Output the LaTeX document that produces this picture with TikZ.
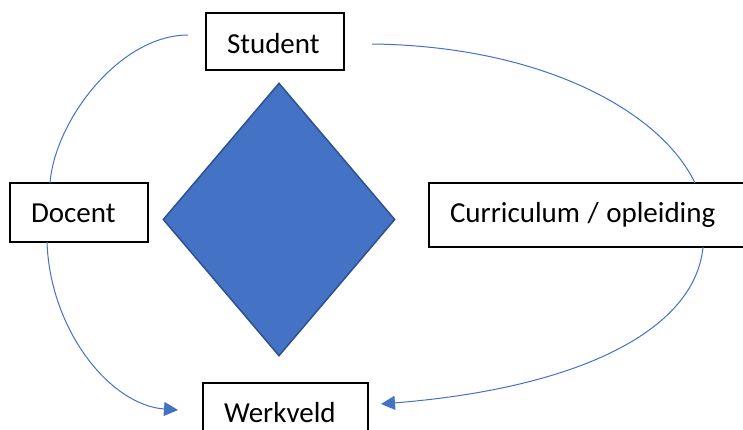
\documentclass[tikz,border=0pt]{standalone}
\usepackage{fontspec}
\setmainfont{Carlito}
\usetikzlibrary{arrows.meta,calc,shapes.geometric}
\definecolor{lineblue}{HTML}{4472C4}
\definecolor{fillblue}{HTML}{4472C4}
\definecolor{edgeblue}{HTML}{2F528F}
\begin{document}
\begin{tikzpicture}[x=1pt,y=-1pt,
  box/.style={draw=black, line width=1.5pt, fill=white, anchor=north west,
    inner xsep=21pt, inner ysep=0pt, outer sep=0pt, align=left,
    font=\fontsize{29}{34}\selectfont},
  link/.style={draw=lineblue, line width=1pt},
  arr/.style={link, -{Triangle[length=14pt,width=14pt]}}]
\clip (0,0) rectangle (743,429);
\fill[white] (0,0) rectangle (743,429);
% nodes
\node[box, text width=96pt, text height=40pt, text depth=17pt] (student) at (206,13) {Student};
\node[box, text width=96pt, text height=39pt, text depth=20pt] (docent) at (10,183) {Docent};
\node[box, text width=300pt, text height=39pt, text depth=25pt] (curric) at (429,183) {\spaceskip=7.5pt Curriculum / opleiding};
\node[box, text width=123pt, text height=39pt, text depth=30pt] (werkveld) at (203,383) {Werkveld};
\node[diamond, draw=edgeblue, fill=fillblue, line width=1.5pt, inner sep=0pt,
  minimum width=232pt, minimum height=273pt] (core) at (279,219.5) {};
% free ends of the connectors
\coordinate (sl) at (188,35);
\coordinate (sr) at (372,44);
\coordinate (wl) at (178,410);
\coordinate (wr) at (381,404);
% connectors
\draw[link] (sl) .. controls (120,35) and (55,120) .. ($(docent.north west)+(40,0)$);
\draw[link] (sr) .. controls (540,46) and (660,110) .. ($(curric.north west)+(266,0)$);
\draw[arr] ($(docent.south west)+(37,0)$) .. controls (50,330) and (110,405) .. (wl);
\draw[arr] ($(curric.south west)+(274,0)$) .. controls (695,330) and (580,388) .. (wr);
\end{tikzpicture}
\end{document}
